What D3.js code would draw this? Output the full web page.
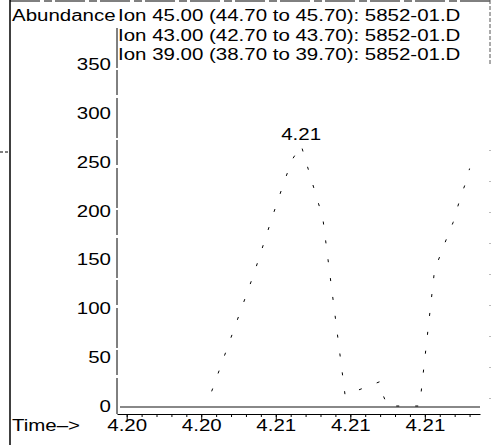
<!DOCTYPE html>
<html lang="en">
<head>
    <meta charset="UTF-8" />
    <title>Ion chromatogram</title>
    <script src="https://d3js.org/d3.v7.min.js"></script>
    <style>
        body { margin: 0; background: #fff; }
        text { font-family: "Liberation Sans", Arial, sans-serif; font-size: 16px; fill: #000; }
    </style>
</head>
<body>
    <script>
        var w = 500;
        var h = 445;
        var stretch = 1.28;   // scanned print looks wide, stretch text horizontally

        // data
        var times = [4.20307, 4.20405, 4.20434, 4.20491, 4.20516, 4.20532, 4.20542, 4.20554,
                     4.20575, 4.20583, 4.20613, 4.20660, 4.20664, 4.20670, 4.20713,
                     4.20733, 4.20750, 4.20758, 4.20768, 4.20776, 4.20780];
        var abundance = [0, 0, 15, 136, 195, 231, 252, 267,
                         213, 193, 11, 25, 11, 0, 0,
                         139, 173, 188, 214, 231, 243];
        var yTicks = [0, 50, 100, 150, 200, 250, 300, 350];
        var xTicks = [4.2032, 4.2042, 4.2052, 4.2062, 4.2072];
        var xMinor = d3.range(4.2024, 4.2080, 0.0002);
        var legendLabels = [
            "Ion 45.00 (44.70 to 45.70): 5852-01.D",
            "Ion 43.00 (42.70 to 43.70): 5852-01.D",
            "Ion 39.00 (38.70 to 39.70): 5852-01.D"
        ];

        var svg = d3.select("body")
            .append("svg")
            .attr("width", w)
            .attr("height", h);

        // Scales
        var xScale = d3.scaleLinear()
            .domain([4.20307, 4.20794])
            .range([117, 480]);

        var yScale = d3.scaleLinear()
            .domain([0, 350])
            .range([406, 64]);

        function addText(x, y, str, anchor) {
            return svg.append("text")
                .attr("transform", "translate(" + x + "," + y + ") scale(" + stretch + ",1)")
                .attr("text-anchor", anchor || "start")
                .text(str);
        }

        // page frame bits from the printout
        svg.append("line")
            .attr("x1", 10).attr("x2", 10)
            .attr("y1", 0).attr("y2", h)
            .attr("stroke", "#000").attr("stroke-width", 1.5);
        svg.append("line")
            .attr("x1", 0).attr("x2", 10)
            .attr("y1", 152).attr("y2", 152)
            .attr("stroke", "#000").attr("stroke-dasharray", "3,2");
        svg.append("line")
            .attr("x1", 10).attr("x2", 490)
            .attr("y1", 1).attr("y2", 1)
            .attr("stroke", "#000").attr("stroke-dasharray", "30,4,8,3");
        svg.append("line")
            .attr("x1", 490).attr("x2", 490)
            .attr("y1", 0).attr("y2", 64)
            .attr("stroke", "#555").attr("stroke-dasharray", "4,2");
        svg.append("line")
            .attr("x1", 490).attr("x2", 490)
            .attr("y1", 150).attr("y2", 420)
            .attr("stroke", "#777").attr("stroke-dasharray", "1,30");

        // y axis
        svg.append("line")
            .attr("x1", 117).attr("x2", 117)
            .attr("y1", 28).attr("y2", 414)
            .attr("stroke", "#000").attr("stroke-dasharray", "40,2,25,3");

        svg.selectAll(".ylab")
            .data(yTicks)
            .enter()
            .append("text")
            .attr("class", "ylab")
            .attr("text-anchor", "end")
            .attr("transform", function(d) {
                return "translate(111," + (yScale(d) + 6) + ") scale(" + stretch + ",1)";
            })
            .text(function(d) { return d; });

        // x axis, major + minor ticks
        var xAxis = d3.axisBottom(xScale)
            .tickValues(xTicks)
            .tickSize(6)
            .tickSizeOuter(0)
            .tickFormat(d3.format(".2f"));

        var gx = svg.append("g")
            .attr("transform", "translate(0,414)")
            .call(xAxis);
        gx.select(".domain").attr("stroke", "#000");
        gx.selectAll(".tick text")
            .attr("y", 17)
            .attr("dy", 0)
            .attr("x", 0)
            .attr("transform", "scale(" + stretch + ",1)")
            .style("font-size", "16px")
            .style("font-family", "Liberation Sans, Arial, sans-serif");

        var gMinor = svg.append("g")
            .attr("transform", "translate(0,414)")
            .call(d3.axisBottom(xScale)
                .tickValues(xMinor.filter(function(t) {
                    return xScale(t) > 118 && xScale(t) < 479;
                }))
                .tickSize(3)
                .tickFormat(""));
        gMinor.select(".domain").remove();

        addText(12, 431, "Time\u2013>");

        // gray baseline
        svg.append("line")
            .attr("x1", 120).attr("x2", 480)
            .attr("y1", yScale(0) + 1).attr("y2", yScale(0) + 1)
            .attr("stroke", "#888").attr("stroke-width", 2);

        // trace, printed as broken fragments
        var points = times.map(function(t, i) { return [t, abundance[i]]; });
        var line = d3.line()
            .x(function(d) { return xScale(d[0]); })
            .y(function(d) { return yScale(d[1]); });

        svg.append("path")
            .datum(points.filter(function(d) { return d[1] > 0 || d[0] > 4.2045; }))
            .attr("d", line)
            .attr("fill", "none")
            .attr("stroke", "#000")
            .attr("stroke-width", 1)
            .attr("stroke-dasharray", "3,16");

        // peak label
        var peakIdx = d3.maxIndex(abundance);
        addText(xScale(times[peakIdx]), yScale(abundance[peakIdx]) - 5,
            d3.format(".2f")(times[peakIdx]), "middle");

        // header
        addText(12, 21, "Abundance");
        legendLabels.forEach(function(lbl, i) {
            addText(118, 21 + i * 19.5, lbl);
        });
    </script>
</body>
</html>
